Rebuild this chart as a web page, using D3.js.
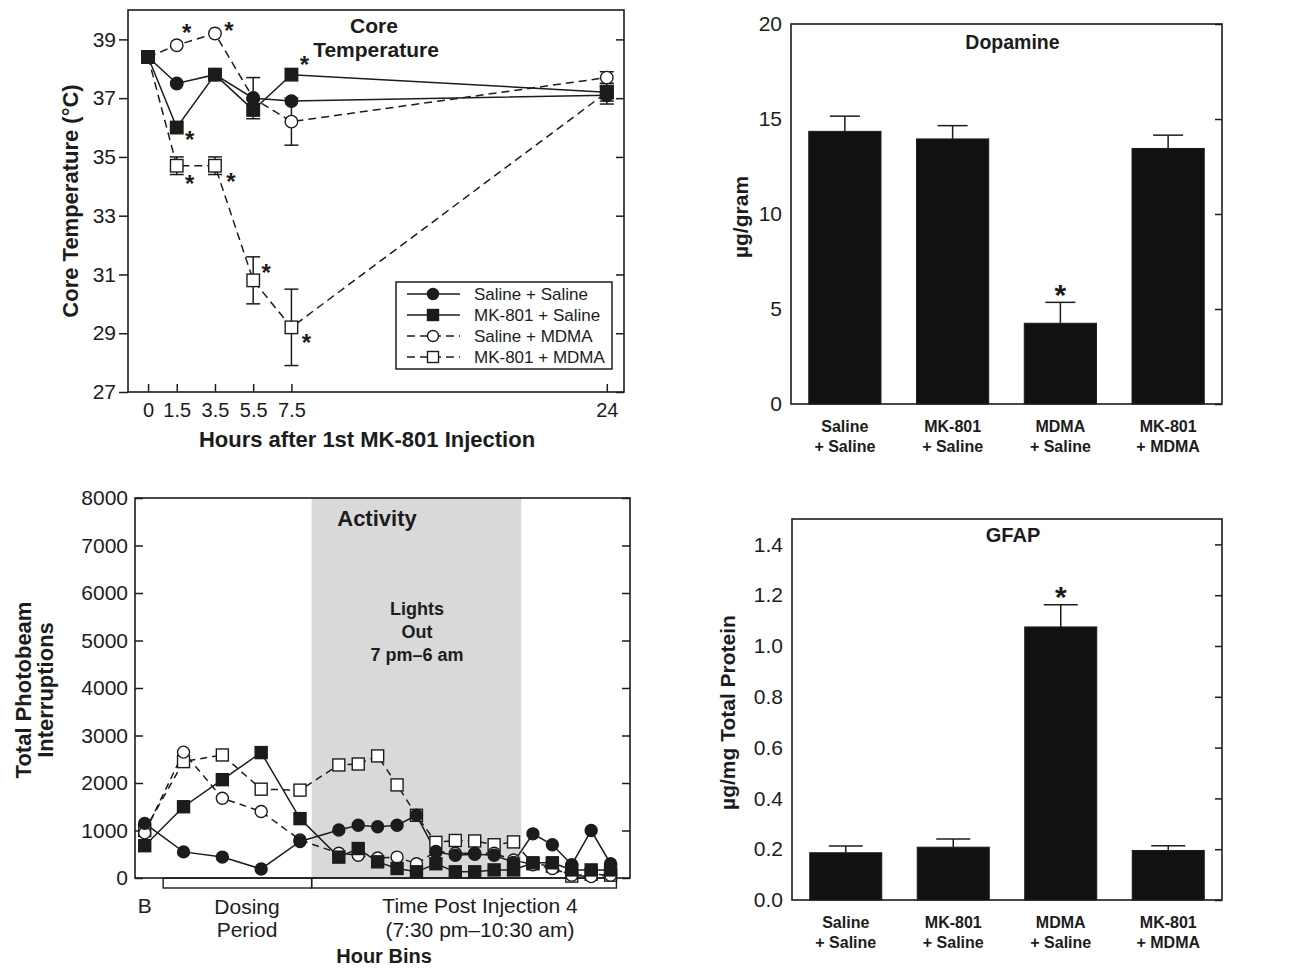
<!DOCTYPE html>
<html><head><meta charset="utf-8">
<script src="https://cdn.jsdelivr.net/npm/d3@7"></script>
<style>
body{margin:0;background:#fff}
svg{display:block}
text{font-family:"Liberation Sans",Arial,Helvetica,sans-serif;fill:#1c1c1c}
</style>
</head><body>
<svg id="c" width="1301" height="968"></svg>
<script>
// ================= DATA =================
// Panel A: core temperature
const hours = [0, 1.5, 3.5, 5.5, 7.5, 24];
const tempTicks = [27, 29, 31, 33, 35, 37, 39];
const tempSalineSaline = [38.4, 37.5, 37.8, 37.0, 36.9, 37.1];
const tempMK801Saline  = [38.4, 36.0, 37.8, 36.6, 37.8, 37.2];
const tempSalineMDMA   = [38.4, 38.8, 39.2, 37.0, 36.2, 37.7];
const tempMK801MDMA    = [38.4, 34.7, 34.7, 30.8, 29.2, 37.2];
const errSalineSaline  = [0, 0, 0, 0.7, 0, 0.3];
const errMK801Saline   = [0, 0, 0, 0, 0, 0.2];
const errSalineMDMA    = [0, 0, 0, 0, 0.8, 0.2];
const errMK801MDMA     = [0, 0.3, 0.3, 0.8, 1.3, 0.3];
const seriesNames = ["Saline + Saline", "MK-801 + Saline", "Saline + MDMA", "MK-801 + MDMA"];
// significance marks: [series index, hour index]
const tempStars = [[2,1],[2,2],[1,1],[1,4],[3,1],[3,2],[3,3],[3,4]];

// Panel B: activity (hour-bin positions; B = baseline)
const binPos = [0, 2, 4, 6, 8, 10, 11, 12, 13, 14, 15, 16, 17, 18, 19, 20, 21, 22, 23, 24];
const actTicks = [0, 1000, 2000, 3000, 4000, 5000, 6000, 7000, 8000];
const actSalineSaline = [1150, 550, 440, 190, 770, 1010, 1110, 1080, 1110, 1320, 550, 480, 500, 480, 330, 930, 700, 280, 1000, 300];
const actMK801Saline  = [680, 1500, 2070, 2640, 1250, 440, 620, 340, 200, 130, 300, 130, 130, 170, 170, 320, 320, 170, 170, 170];
const actSalineMDMA   = [950, 2650, 1680, 1400, 800, 520, 480, 420, 440, 300, 560, 520, 520, 520, 380, 280, 200, 60, 30, 60];
const actMK801MDMA    = [1000, 2450, 2590, 1870, 1850, 2380, 2400, 2570, 1960, 1320, 750, 790, 780, 700, 760, 300, 250, 40, 80, 60];
const lightsOut = [8.6, 19.4];
const periods = [[0.95, 8.6], [8.6, 24.3]];

// Panels C, D: bars
const groupTop = ["Saline", "MK-801", "MDMA", "MK-801"];
const groupBottom = ["+ Saline", "+ Saline", "+ Saline", "+ MDMA"];
const dopamine = [14.35, 13.95, 4.25, 13.45];
const dopamineErr = [0.8, 0.7, 1.1, 0.7];
const dopamineTicks = [0, 5, 10, 15, 20];
const gfap = [0.186, 0.208, 1.075, 0.195];
const gfapErr = [0.027, 0.032, 0.087, 0.019];
const gfapTicks = [0, 0.2, 0.4, 0.6, 0.8, 1.0, 1.2, 1.4];
const significant = [false, false, true, false];

// ================= DRAW =================
const INK = "#1c1c1c";
const svg = d3.select("#c");

function styleAxis(g, fs) {
  g.select(".domain").remove();
  g.selectAll(".tick line").attr("stroke", INK).attr("stroke-width", 1.5);
  g.selectAll(".tick text").attr("font-size", fs).attr("fill", INK)
    .attr("font-family", '"Liberation Sans",Arial,Helvetica,sans-serif');
}
function frame(g, b) {
  g.append("rect").attr("x", b.l).attr("y", b.t).attr("width", b.r - b.l).attr("height", b.b - b.t)
    .attr("fill", "none").attr("stroke", INK).attr("stroke-width", 1.6);
}
function marker(g, shape, filled, cx, cy, size) {
  const fill = filled ? INK : "#fff";
  if (shape === "circle") {
    g.append("circle").attr("cx", cx).attr("cy", cy).attr("r", size / 2)
      .attr("fill", fill).attr("stroke", INK).attr("stroke-width", 1.4);
  } else {
    g.append("rect").attr("x", cx - size / 2).attr("y", cy - size / 2).attr("width", size).attr("height", size)
      .attr("fill", fill).attr("stroke", INK).attr("stroke-width", 1.4);
  }
}
function star(g, cx, cy, fs) {
  g.append("text").attr("x", cx).attr("y", cy + fs * 0.55).attr("text-anchor", "middle")
    .attr("font-size", fs).attr("font-weight", "bold").text("*");
}
function rotLabel(g, x, y, txt, fs) {
  g.append("text").attr("transform", `translate(${x},${y}) rotate(-90)`).attr("text-anchor", "middle")
    .attr("font-size", fs).attr("font-weight", "bold").text(txt);
}

const styles = [
  {shape: "circle", filled: true,  dash: null},
  {shape: "square", filled: true,  dash: null},
  {shape: "circle", filled: false, dash: "8,5"},
  {shape: "square", filled: false, dash: "8,5"}
];
const drawOrder = [3, 2, 0, 1];

// ---------- Panel A: Core temperature ----------
{
  const A = {l: 128, r: 624, t: 10, b: 392};
  const x = d3.scaleLinear().domain([-1.05, 24.9]).range([A.l, A.r]);
  const y = d3.scaleLinear().domain([27, 40]).range([A.b, A.t]);
  const g = svg.append("g");
  const temps = [tempSalineSaline, tempMK801Saline, tempSalineMDMA, tempMK801MDMA];
  const errs = [errSalineSaline, errMK801Saline, errSalineMDMA, errMK801MDMA];

  g.append("g").attr("transform", `translate(0,${A.b})`)
    .call(d3.axisBottom(x).tickValues(hours).tickFormat(d => d).tickSizeInner(-8).tickSizeOuter(0).tickPadding(11))
    .call(styleAxis, 20);
  g.append("g").attr("transform", `translate(${A.l},0)`)
    .call(d3.axisLeft(y).tickValues(tempTicks).tickSizeInner(9).tickSizeOuter(0).tickPadding(3))
    .call(styleAxis, 21);
  g.append("g").attr("transform", `translate(${A.r},0)`)
    .call(d3.axisRight(y).tickValues(tempTicks).tickFormat("").tickSizeInner(-8).tickSizeOuter(0))
    .call(styleAxis, 20);
  frame(g, A);

  const line = d3.line().x((d, i) => x(hours[i])).y(d => y(d));
  drawOrder.forEach(s => {
    g.append("path").attr("d", line(temps[s])).attr("fill", "none").attr("stroke", INK)
      .attr("stroke-width", 1.5).attr("stroke-dasharray", styles[s].dash);
  });
  // error bars
  drawOrder.forEach(s => {
    temps[s].forEach((v, i) => {
      const e = errs[s][i];
      if (!e) return;
      const cx = x(hours[i]);
      g.append("line").attr("x1", cx).attr("x2", cx).attr("y1", y(v - e)).attr("y2", y(v + e))
        .attr("stroke", INK).attr("stroke-width", 1.5);
      [v - e, v + e].forEach(w => g.append("line").attr("x1", cx - 7).attr("x2", cx + 7)
        .attr("y1", y(w)).attr("y2", y(w)).attr("stroke", INK).attr("stroke-width", 1.5));
    });
  });
  drawOrder.forEach(s => {
    temps[s].forEach((v, i) => marker(g, styles[s].shape, styles[s].filled, x(hours[i]), y(v), 12.5));
  });
  // stars (offset from point)
  const starOff = {"2,1": [10, -17], "2,2": [14, -8], "1,1": [13, 7], "1,4": [13, -15],
                   "3,1": [13, 13], "3,2": [16, 11], "3,3": [13, -13], "3,4": [15, 10]};
  tempStars.forEach(([s, i]) => {
    const o = starOff[s + "," + i];
    star(g, x(hours[i]) + o[0], y(temps[s][i]) + o[1], 24);
  });
  // title
  g.append("text").attr("x", 374).attr("y", 33).attr("text-anchor", "middle").attr("font-size", 21).attr("font-weight", "bold").text("Core");
  g.append("text").attr("x", 376).attr("y", 57).attr("text-anchor", "middle").attr("font-size", 21).attr("font-weight", "bold").text("Temperature");
  // axis labels
  rotLabel(g, 78, 201, "Core Temperature (°C)", 22);
  g.append("text").attr("x", 367).attr("y", 447).attr("text-anchor", "middle").attr("font-size", 22).attr("font-weight", "bold")
    .text("Hours after 1st MK-801 Injection");
  // legend
  const L = {l: 396, t: 282, w: 216, h: 87};
  g.append("rect").attr("x", L.l).attr("y", L.t).attr("width", L.w).attr("height", L.h)
    .attr("fill", "#fff").attr("stroke", INK).attr("stroke-width", 1.5);
  seriesNames.forEach((nm, s) => {
    const ry = L.t + 12 + s * 21;
    g.append("line").attr("x1", L.l + 11).attr("x2", L.l + 64).attr("y1", ry).attr("y2", ry)
      .attr("stroke", INK).attr("stroke-width", 1.5).attr("stroke-dasharray", styles[s].dash);
    marker(g, styles[s].shape, styles[s].filled, L.l + 37, ry, 11);
    g.append("text").attr("x", L.l + 78).attr("y", ry + 6).attr("font-size", 17).text(nm);
  });
}

// ---------- Panel B: Activity ----------
{
  const B = {l: 135, r: 630, t: 498, b: 878};
  const x = d3.scaleLinear().domain([-0.5, 25]).range([B.l, B.r]);
  const y = d3.scaleLinear().domain([0, 8000]).range([B.b, B.t]);
  const g = svg.append("g");
  const acts = [actSalineSaline, actMK801Saline, actSalineMDMA, actMK801MDMA];

  g.append("rect").attr("x", x(lightsOut[0])).attr("y", B.t).attr("width", x(lightsOut[1]) - x(lightsOut[0]))
    .attr("height", B.b - B.t).attr("fill", "#d9d9d9");
  g.append("g").attr("transform", `translate(${B.l},0)`)
    .call(d3.axisLeft(y).tickValues(actTicks).tickFormat(d3.format("d")).tickSizeInner(-8).tickSizeOuter(0).tickPadding(7))
    .call(styleAxis, 21);
  g.append("g").attr("transform", `translate(${B.r},0)`)
    .call(d3.axisRight(y).tickValues(actTicks).tickFormat("").tickSizeInner(-8).tickSizeOuter(0))
    .call(styleAxis, 21);
  frame(g, B);
  periods.forEach(([a, b]) => g.append("rect").attr("x", x(a)).attr("y", B.b).attr("width", x(b) - x(a)).attr("height", 10)
    .attr("fill", "none").attr("stroke", INK).attr("stroke-width", 1.4));

  const line = d3.line().x((d, i) => x(binPos[i])).y(d => y(d));
  drawOrder.forEach(s => {
    g.append("path").attr("d", line(acts[s])).attr("fill", "none").attr("stroke", INK)
      .attr("stroke-width", 1.5).attr("stroke-dasharray", styles[s].dash ? "7,5" : null);
  });
  drawOrder.forEach(s => {
    acts[s].forEach((v, i) => marker(g, styles[s].shape, styles[s].filled, x(binPos[i]), y(v), 12));
  });

  g.append("text").attr("x", 377).attr("y", 526).attr("text-anchor", "middle").attr("font-size", 22).attr("font-weight", "bold").text("Activity");
  [["Lights", 615], ["Out", 638], ["7 pm–6 am", 661]].forEach(([t, yy]) =>
    g.append("text").attr("x", 417).attr("y", yy).attr("text-anchor", "middle").attr("font-size", 18).attr("font-weight", "bold").text(t));

  g.append("text").attr("x", x(0)).attr("y", 913).attr("text-anchor", "middle").attr("font-size", 21).text("B");
  g.append("text").attr("x", 247).attr("y", 914).attr("text-anchor", "middle").attr("font-size", 21).text("Dosing");
  g.append("text").attr("x", 247).attr("y", 937).attr("text-anchor", "middle").attr("font-size", 21).text("Period");
  g.append("text").attr("x", 480).attr("y", 913).attr("text-anchor", "middle").attr("font-size", 21).text("Time Post Injection 4");
  g.append("text").attr("x", 480).attr("y", 937).attr("text-anchor", "middle").attr("font-size", 21).text("(7:30 pm–10:30 am)");
  g.append("text").attr("x", 384).attr("y", 963).attr("text-anchor", "middle").attr("font-size", 20).attr("font-weight", "bold").text("Hour Bins");

  rotLabel(g, 31, 690, "Total Photobeam", 22);
  rotLabel(g, 53, 690, "Interruptions", 22);
}

// ---------- Bar panels ----------
function barPanel(P, values, errs, domainMax, ticks, fmt, title, titleY, ylabel, ylabelX, capW, titleFs) {
  const g = svg.append("g");
  const x = d3.scaleBand().domain(d3.range(values.length)).range([P.l, P.r]).paddingInner(0.33).paddingOuter(0.165);
  const y = d3.scaleLinear().domain([0, domainMax]).range([P.b, P.t]);
  g.append("g").attr("transform", `translate(${P.l},0)`)
    .call(d3.axisLeft(y).tickValues(ticks).tickFormat(fmt).tickSizeInner(0).tickSizeOuter(0).tickPadding(9))
    .call(styleAxis, 21);
  g.append("g").attr("transform", `translate(${P.r},0)`)
    .call(d3.axisRight(y).tickValues(ticks).tickFormat("").tickSizeInner(-7).tickSizeOuter(0))
    .call(styleAxis, 21);
  values.forEach((v, i) => {
    const cx = x(i) + x.bandwidth() / 2;
    const top = y(v + errs[i]);
    g.append("line").attr("x1", cx).attr("x2", cx).attr("y1", y(v)).attr("y2", top).attr("stroke", INK).attr("stroke-width", 1.5);
    g.append("line").attr("x1", cx - capW / 2).attr("x2", cx + capW / 2).attr("y1", top).attr("y2", top).attr("stroke", INK).attr("stroke-width", 1.5);
    g.append("rect").attr("x", x(i)).attr("y", y(v)).attr("width", x.bandwidth()).attr("height", P.b - y(v))
      .attr("fill", "#111").attr("stroke", INK).attr("stroke-width", 1);
    if (significant[i]) star(g, cx, top - 14, 30);
    g.append("text").attr("x", cx).attr("y", P.b + 28).attr("text-anchor", "middle").attr("font-size", 16).attr("font-weight", "bold").text(groupTop[i]);
    g.append("text").attr("x", cx).attr("y", P.b + 48).attr("text-anchor", "middle").attr("font-size", 16).attr("font-weight", "bold").text(groupBottom[i]);
  });
  frame(g, P);
  g.append("text").attr("x", (P.l + P.r) / 2 + 6).attr("y", titleY).attr("text-anchor", "middle")
    .attr("font-size", titleFs).attr("font-weight", "bold").text(title);
  rotLabel(g, ylabelX, (P.t + P.b) / 2 + 3, ylabel, 21);
}
barPanel({l: 791, r: 1222, t: 24, b: 404}, dopamine, dopamineErr, 20, dopamineTicks, d => d,
  "Dopamine", 49, "µg/gram", 748, 30, 19.5);
barPanel({l: 792, r: 1222, t: 519, b: 900}, gfap, gfapErr, 1.5, gfapTicks, d3.format(".1f"),
  "GFAP", 542, "µg/mg Total Protein", 735, 34, 20);
</script>
</body></html>
